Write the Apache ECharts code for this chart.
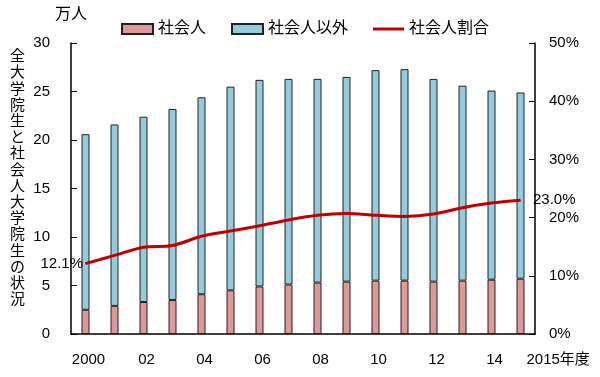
<!DOCTYPE html>
<html lang="ja">
<head>
    <meta charset="UTF-8">
    <title>全大学院生と社会人大学院生の状況</title>
    <style>body{margin:0;background:#fff;}</style>
</head>
<body>
<div id="main" style="width: 600px;height:377px;"></div>
<script src="https://cdn.jsdelivr.net/npm/echarts@6/dist/echarts.min.js"></script>
<script>
    // 年度
    var years = ['2000','2001','2002','2003','2004','2005','2006','2007',
                 '2008','2009','2010','2011','2012','2013','2014','2015'];
    var yearLabels = ['2000','','02','','04','','06','','08','','10','','12','','14','2015年度'];
    // 万人
    var shakaijin = [2.5, 2.9, 3.3, 3.5, 4.1, 4.5, 4.9, 5.1, 5.3, 5.4, 5.5, 5.5, 5.4, 5.5, 5.6, 5.7];
    var total = [20.6, 21.6, 22.4, 23.2, 24.4, 25.5, 26.2, 26.3, 26.3, 26.5, 27.2, 27.3, 26.3, 25.6, 25.1, 24.9];
    var igai = total.map(function (t, i) { return +(t - shakaijin[i]).toFixed(1); });
    // %
    var ratio = [12.1, 13.5, 14.9, 15.2, 16.8, 17.7, 18.6, 19.6, 20.4, 20.7, 20.4, 20.2, 20.6, 21.7, 22.5, 23.0];
    var leftTicks = [0, 30, 5];
    var rightTicks = [0, 50, 10];
    var titleText = '全大学院生と社会人大学院生の状況';

    var font = '"Liberation Sans", Arial, "Noto Sans CJK JP", sans-serif';
    var myChart = echarts.init(document.getElementById('main'));

    var ratioData = ratio.map(function (v, i) {
        if (i === 0) {
            return {value: v, label: {show: true, position: 'left', distance: 2}};
        }
        if (i === ratio.length - 1) {
            return {value: v, label: {show: true, position: 'right', distance: 12}};
        }
        return v;
    });

    var option = {
        animation: false,
        textStyle: {fontFamily: font, color: '#000'},
        title: {
            text: titleText.split('').join('\n'),
            left: 5,
            top: 44,
            textStyle: {fontSize: 15, fontWeight: 'normal', lineHeight: 16.2, color: '#000', fontFamily: font}
        },
        legend: {
            left: 116,
            top: 16,
            itemWidth: 31,
            itemHeight: 10,
            itemGap: 25,
            textStyle: {fontSize: 16, color: '#000', fontFamily: font},
            data: [
                {name: '社会人', icon: 'rect'},
                {name: '社会人以外', icon: 'rect'},
                {name: '社会人割合', icon: 'path://M0,0L31,0L31,3L0,3Z'}
            ]
        },
        grid: {left: 71, right: 65, top: 43, bottom: 43},
        xAxis: {
            type: 'category',
            data: years,
            boundaryGap: true,
            axisLine: {lineStyle: {color: '#000', width: 1.5}},
            axisTick: {inside: true, length: 5, lineStyle: {color: '#000'}},
            axisLabel: {
                interval: 0,
                margin: 18,
                fontSize: 15,
                color: '#000',
                alignMaxLabel: 'left',
                padding: [0, 0, 0, 6],
                formatter: function (v, i) { return yearLabels[i]; }
            }
        },
        yAxis: [
            {
                type: 'value',
                name: '万人',
                nameLocation: 'end',
                nameGap: 20,
                nameTextStyle: {fontSize: 16, color: '#000', align: 'center'},
                min: leftTicks[0], max: leftTicks[1], interval: leftTicks[2],
                splitLine: {show: false},
                axisLine: {show: true, lineStyle: {color: '#000', width: 1.5}},
                axisTick: {show: true, inside: true, length: 6, lineStyle: {color: '#000'}},
                axisLabel: {fontSize: 15, color: '#000', margin: 21}
            },
            {
                type: 'value',
                min: rightTicks[0], max: rightTicks[1], interval: rightTicks[2],
                splitLine: {show: false},
                axisLine: {show: true, lineStyle: {color: '#000', width: 1.5}},
                axisTick: {show: true, inside: true, length: 6, lineStyle: {color: '#000'}},
                axisLabel: {fontSize: 15, color: '#000', margin: 14, formatter: '{value}%'}
            }
        ],
        series: [
            {
                name: '社会人',
                type: 'bar',
                stack: 'total',
                barWidth: 8,
                data: shakaijin,
                itemStyle: {color: '#DE9897', borderColor: '#222', borderWidth: 1}
            },
            {
                name: '社会人以外',
                type: 'bar',
                stack: 'total',
                barWidth: 8,
                data: igai,
                itemStyle: {color: '#93CDDD', borderColor: '#222', borderWidth: 1}
            },
            {
                name: '社会人割合',
                type: 'line',
                yAxisIndex: 1,
                smooth: 0.3,
                symbol: 'circle',
                symbolSize: 1,
                data: ratioData,
                lineStyle: {color: '#C00000', width: 3},
                itemStyle: {color: '#C00000'},
                label: {
                    show: false,
                    fontSize: 15,
                    color: '#000',
                    formatter: function (p) { return p.value.toFixed(1) + '%'; }
                }
            }
        ]
    };

    myChart.setOption(option);
</script>
</body>
</html>
